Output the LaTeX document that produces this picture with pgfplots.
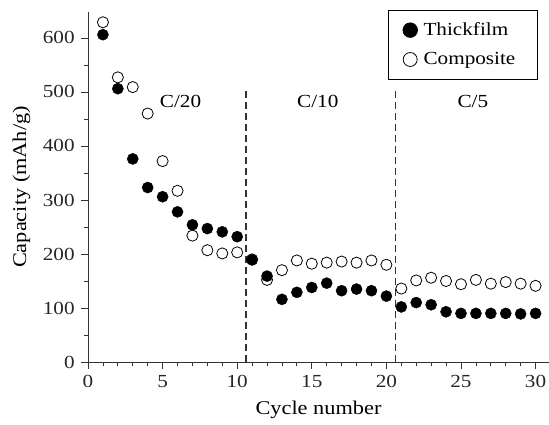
\documentclass[border=0pt]{standalone}
\usepackage{fontspec}
\setmainfont{Liberation Serif}[FakeStretch=1.15]
\usepackage{pgfplots}
\pgfplotsset{compat=1.18}
\begin{document}
\fontsize{18.5}{22}\selectfont
\begin{tikzpicture}
\begin{axis}[
  scale only axis, width=461bp, height=350bp,
  xmin=0, xmax=30.9, ymin=0, ymax=648,
  axis lines=left, axis line style={-, line width=0.9pt, black!80},
  tick align=outside, major tick length=7bp, minor tick length=4bp,
  tick style={line width=0.8pt, black!80},
  xtick={0,5,...,30}, ytick={0,100,...,600},
  minor x tick num=4, minor y tick num=1,
  /pgf/number format/assume math mode=true,
  ticklabel style={font=\fontsize{18.5}{22}\selectfont, text=black!85},
  xlabel={Cycle number}, ylabel={Capacity (mAh/g)},
  label style={font=\fontsize{19.5}{23}\selectfont},
  xlabel style={yshift=-1bp}, ylabel style={yshift=0bp},
  clip=false,
  legend style={at={(0.976,1.006)}, anchor=north east, draw=black, line width=0.8pt,
    font=\fontsize{18.5}{22}\selectfont, row sep=10bp, inner xsep=6bp, inner ysep=10bp},
  legend cell align=left,
  legend image code/.code={%
    \path[draw=none] (-0.2cm,0cm) -- (0.75cm,0cm);
    \draw plot[only marks] coordinates {(0.35cm,0cm)};},
]
\addplot[only marks, mark=*, mark size=5.6pt, mark options={fill=black, draw=black},
  legend image post style={mark size=7.3pt}]
 coordinates {(1,606)(2,506)(3,376)(4,323)(5,306)(6,278)(7,254)(8,247)(9,241)(10,232)
 (11,189)(12,159)(13,116)(14,129)(15,138)(16,146)(17,132)(18,135)(19,132)(20,122)
 (21,102)(22,110)(23,106)(24,93)(25,90)(26,90)(27,90)(28,90)(29,89)(30,90)};
\addlegendentry{Thickfilm}
\addplot[only marks, mark=o, mark size=5.6pt, mark options={fill=white, draw=black, line width=0.8pt},
  legend image post style={mark size=7pt}]
 coordinates {(1,629)(2,527)(3,509)(4,460)(5,372)(6,317)(7,234)(8,207)(9,201)(10,203)
 (11,190)(12,152)(13,170)(14,188)(15,182)(16,184)(17,186)(18,184)(19,188)(20,180)
 (21,136)(22,151)(23,156)(24,150)(25,144)(26,152)(27,145)(28,148)(29,145)(30,141)};
\addlegendentry{\makebox[106bp][l]{Composite}}
\addplot[line width=1.4pt, black!80, dash pattern=on 7bp off 4bp, forget plot] coordinates {(10.6,0)(10.6,505)};
\addplot[line width=1.4pt, black!80, dash pattern=on 7bp off 4bp, forget plot] coordinates {(20.6,0)(20.6,505)};
\node at (axis cs:6.2,483) {C/20};
\node at (axis cs:15.4,483) {C/10};
\node at (axis cs:25.8,483) {C/5};
\end{axis}
\pgfresetboundingbox
\path (current axis.south west) ++(-88bp,-63bp) rectangle ++(549bp,425bp);
\end{tikzpicture}
\end{document}
